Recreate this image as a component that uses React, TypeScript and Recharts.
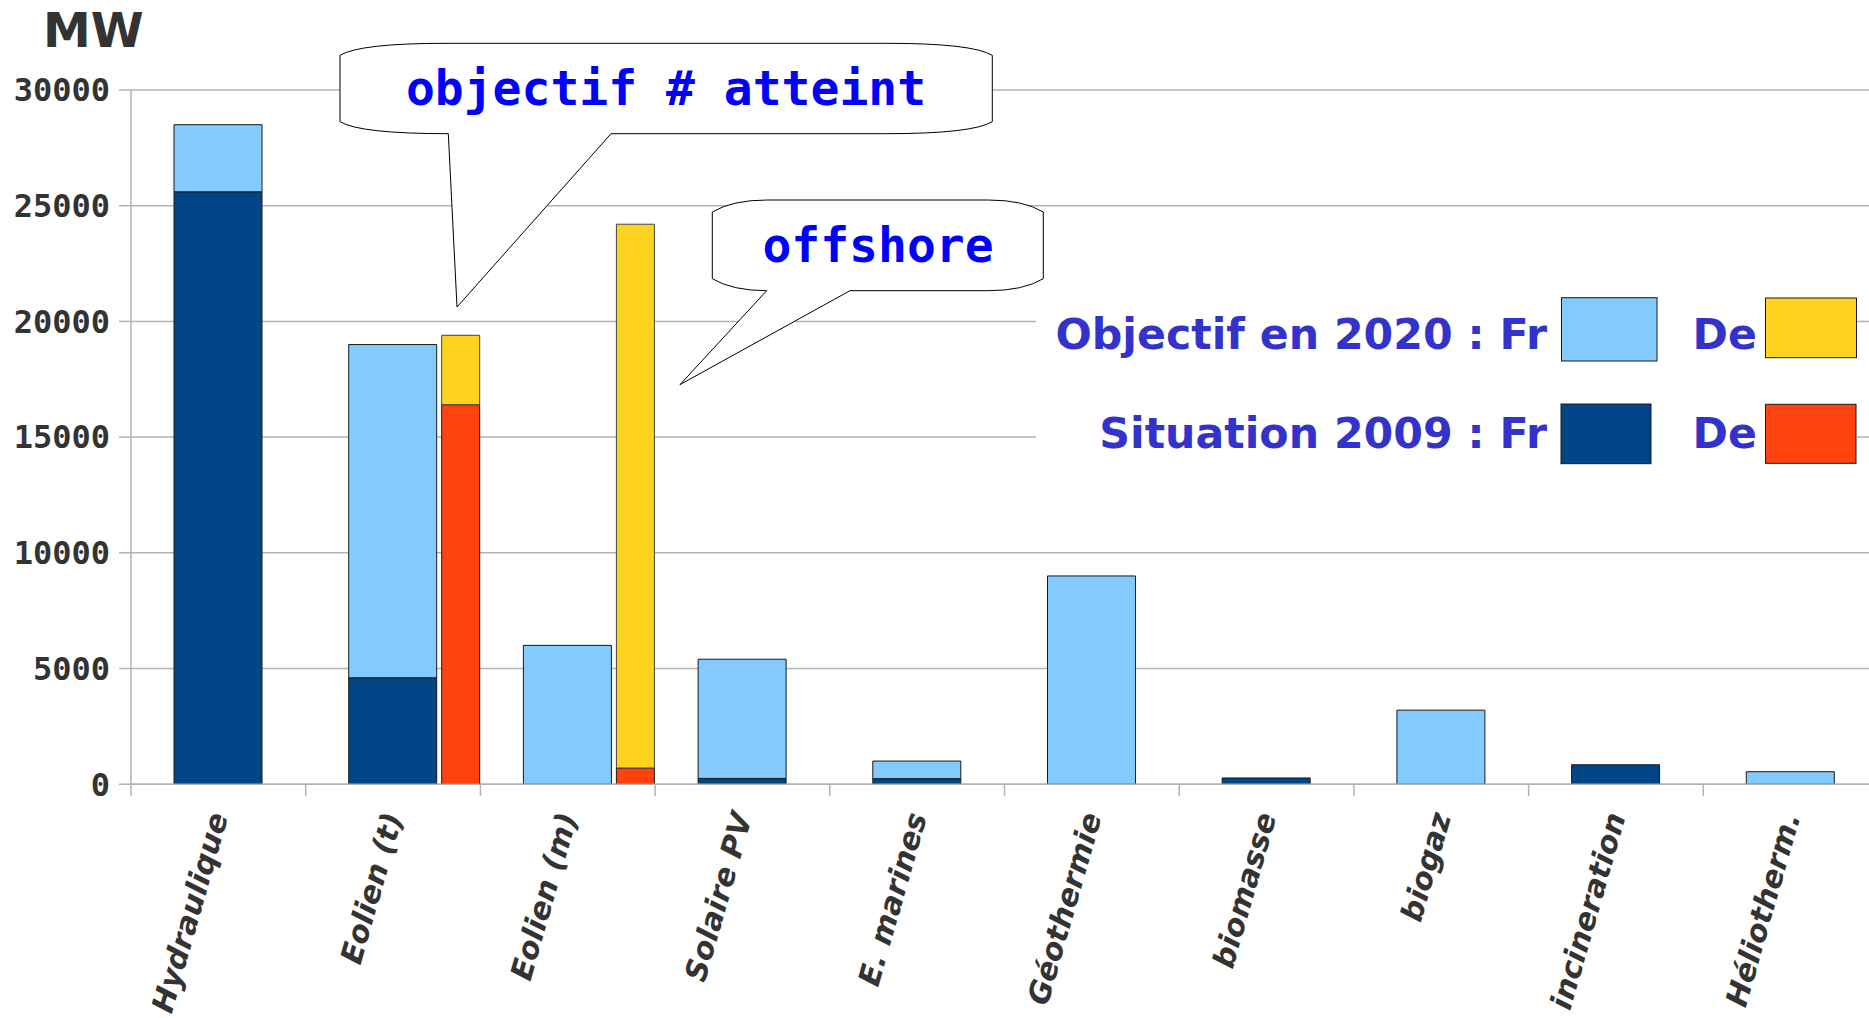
import { Bar, BarChart, CartesianGrid, XAxis, YAxis } from "recharts"

const categories = [
  "Hydraulique",
  "Eolien (t)",
  "Eolien (m)",
  "Solaire PV",
  "E. marines",
  "Géothermie",
  "biomasse",
  "biogaz",
  "incineration",
  "Héliotherm.",
]
// MW
const frObjectif2020 = [28500, 19000, 6000, 5400, 1000, 9000, null, 3200, null, 540]
const frSituation2009 = [25600, 4600, null, 250, 240, null, 270, null, 840, null]
const deObjectif2020 = [null, 19400, 24200, null, null, null, null, null, null, null]
const deSituation2009 = [null, 16400, 700, null, null, null, null, null, null, null]
const yTicks = [0, 5000, 10000, 15000, 20000, 25000, 30000]

const LIGHT_BLUE = "#83caff"
const DARK_BLUE = "#004586"
const YELLOW = "#ffd320"
const RED = "#ff420e"
const GRID = "#b3b3b3"
const TEXT = "#333333"
const OUTLINE = "#1a1a1a"

// stacked: situation at the bottom, rest of the objective on top
const rows = categories.map((name, i) => {
  const fr09 = frSituation2009[i]
  const fr20 = frObjectif2020[i]
  const de09 = deSituation2009[i]
  const de20 = deObjectif2020[i]
  return {
    name,
    fr2009: fr09,
    frRest: fr20 != null ? fr20 - (fr09 ?? 0) : null,
    de2009: de09,
    deRest: de20 != null ? de20 - (de09 ?? 0) : null,
  }
})

function CategoryTick(props: any) {
  const { x, y, payload } = props
  const half = payload.offset ?? 87.35
  const tx = x + 10
  const ty = y + 32
  return (
    <g>
      <line x1={x - half} x2={x - half} y1={y} y2={y + 12} stroke={GRID} strokeWidth={1.5} />
      <text
        x={tx}
        y={ty}
        transform={`rotate(-74, ${tx}, ${ty})`}
        textAnchor="end"
        fill={TEXT}
        fontFamily="DejaVu Sans"
        fontWeight="bold"
        fontStyle="italic"
        fontSize={30}
      >
        {payload.value}
      </text>
    </g>
  )
}

// callout: box with flattened corners and a pointer out of the bottom edge
function calloutPath(
  l: number,
  t: number,
  r: number,
  b: number,
  cx: number,
  p1: number,
  p2: number,
  tip: [number, number]
) {
  const dy = 12
  return [
    `M ${l} ${t + dy}`,
    `Q ${l + 20} ${t} ${l + cx} ${t}`,
    `L ${r - cx} ${t}`,
    `Q ${r - 20} ${t} ${r} ${t + dy}`,
    `L ${r} ${b - dy}`,
    `Q ${r - 20} ${b} ${r - cx} ${b}`,
    `L ${p2} ${b}`,
    `L ${tip[0]} ${tip[1]}`,
    `L ${p1} ${b}`,
    `Q ${l + 20} ${b} ${l} ${b - dy}`,
    "Z",
  ].join(" ")
}

export default function App() {
  return (
    <div
      style={{
        position: "absolute",
        left: 0,
        top: 0,
        width: 1869,
        height: 1018,
        overflow: "hidden",
        background: "#fff",
      }}
    >
      <BarChart
        width={1878}
        height={1018}
        data={rows}
        margin={{ top: 90, right: 0, bottom: 0, left: 0 }}
        barGap={0}
      >
        <CartesianGrid xAxisId="fr" vertical={false} stroke={GRID} strokeWidth={1.5} />
        <XAxis xAxisId="de" dataKey="name" hide height={0} />
        <XAxis
          xAxisId="fr"
          dataKey="name"
          height={233.8}
          interval={0}
          tickLine={false}
          tickSize={0}
          tickMargin={0}
          axisLine={{ stroke: GRID, strokeWidth: 1.5 }}
          tick={<CategoryTick />}
        />
        <YAxis
          domain={[0, 30000]}
          ticks={yTicks}
          width={131}
          tickSize={12}
          tickMargin={9}
          axisLine={{ stroke: GRID, strokeWidth: 1.5 }}
          tickLine={{ stroke: GRID, strokeWidth: 1.5 }}
          tick={{
            fill: TEXT,
            fontSize: 32,
            fontFamily: "DejaVu Sans Mono",
            fontWeight: "bold",
          }}
        />
        <Bar
          xAxisId="fr"
          dataKey="fr2009"
          stackId="fr"
          barSize={88}
          fill={DARK_BLUE}
          stroke={OUTLINE}
          strokeWidth={1}
          isAnimationActive={false}
        />
        <Bar
          xAxisId="fr"
          dataKey="frRest"
          stackId="fr"
          barSize={88}
          fill={LIGHT_BLUE}
          stroke={OUTLINE}
          strokeWidth={1}
          isAnimationActive={false}
        />
        {/* empty slot that pushes the German bars to the right edge of each category */}
        <Bar xAxisId="de" dataKey="pad" stackId="pad" barSize={136} isAnimationActive={false} />
        <Bar
          xAxisId="de"
          dataKey="de2009"
          stackId="de"
          barSize={38}
          fill={RED}
          stroke={OUTLINE}
          strokeWidth={1}
          isAnimationActive={false}
        />
        <Bar
          xAxisId="de"
          dataKey="deRest"
          stackId="de"
          barSize={38}
          fill={YELLOW}
          stroke="#444"
          strokeWidth={1}
          isAnimationActive={false}
        />
      </BarChart>

      <svg
        width={1869}
        height={1018}
        style={{ position: "absolute", left: 0, top: 0, pointerEvents: "none" }}
      >
        <text x={43} y={47} fill={TEXT} fontFamily="DejaVu Sans" fontWeight="bold" fontSize={48}>
          MW
        </text>

        <path
          d={calloutPath(340, 43.3, 992.3, 133.7, 106, 448.3, 611, [457, 307])}
          fill="#fff"
          stroke="#000"
          strokeWidth={1}
        />
        <text
          x={666}
          y={105}
          textAnchor="middle"
          fill="#0000ff"
          fontFamily="DejaVu Sans Mono"
          fontWeight="bold"
          fontSize={48}
        >
          objectif # atteint
        </text>

        <path
          d={calloutPath(712.3, 200, 1043.3, 290.7, 55, 766.7, 850, [680, 384.6])}
          fill="#fff"
          stroke="#000"
          strokeWidth={1}
        />
        <text
          x={878}
          y={261.7}
          textAnchor="middle"
          fill="#0000ff"
          fontFamily="DejaVu Sans Mono"
          fontWeight="bold"
          fontSize={48}
        >
          offshore
        </text>

        <rect x={1036} y={290} width={821} height={185} fill="#fff" />
        <g fill="#3333cc" fontFamily="DejaVu Sans" fontWeight="bold" fontSize={42.7} textAnchor="end">
          <text x={1547} y={349.3}>Objectif en 2020 : Fr</text>
          <text x={1757} y={349.3}>De</text>
          <text x={1547} y={447.7}>Situation 2009 : Fr</text>
          <text x={1757} y={447.7}>De</text>
        </g>
        <rect x={1561.5} y={297.7} width={95.5} height={63.3} fill={LIGHT_BLUE} stroke={OUTLINE} />
        <rect x={1765.5} y={298} width={91} height={59.7} fill={YELLOW} stroke={OUTLINE} />
        <rect x={1561} y={404} width={90} height={59.7} fill={DARK_BLUE} stroke={OUTLINE} />
        <rect x={1765.5} y={404.3} width={90.5} height={59} fill={RED} stroke={OUTLINE} />
      </svg>
    </div>
  )
}
